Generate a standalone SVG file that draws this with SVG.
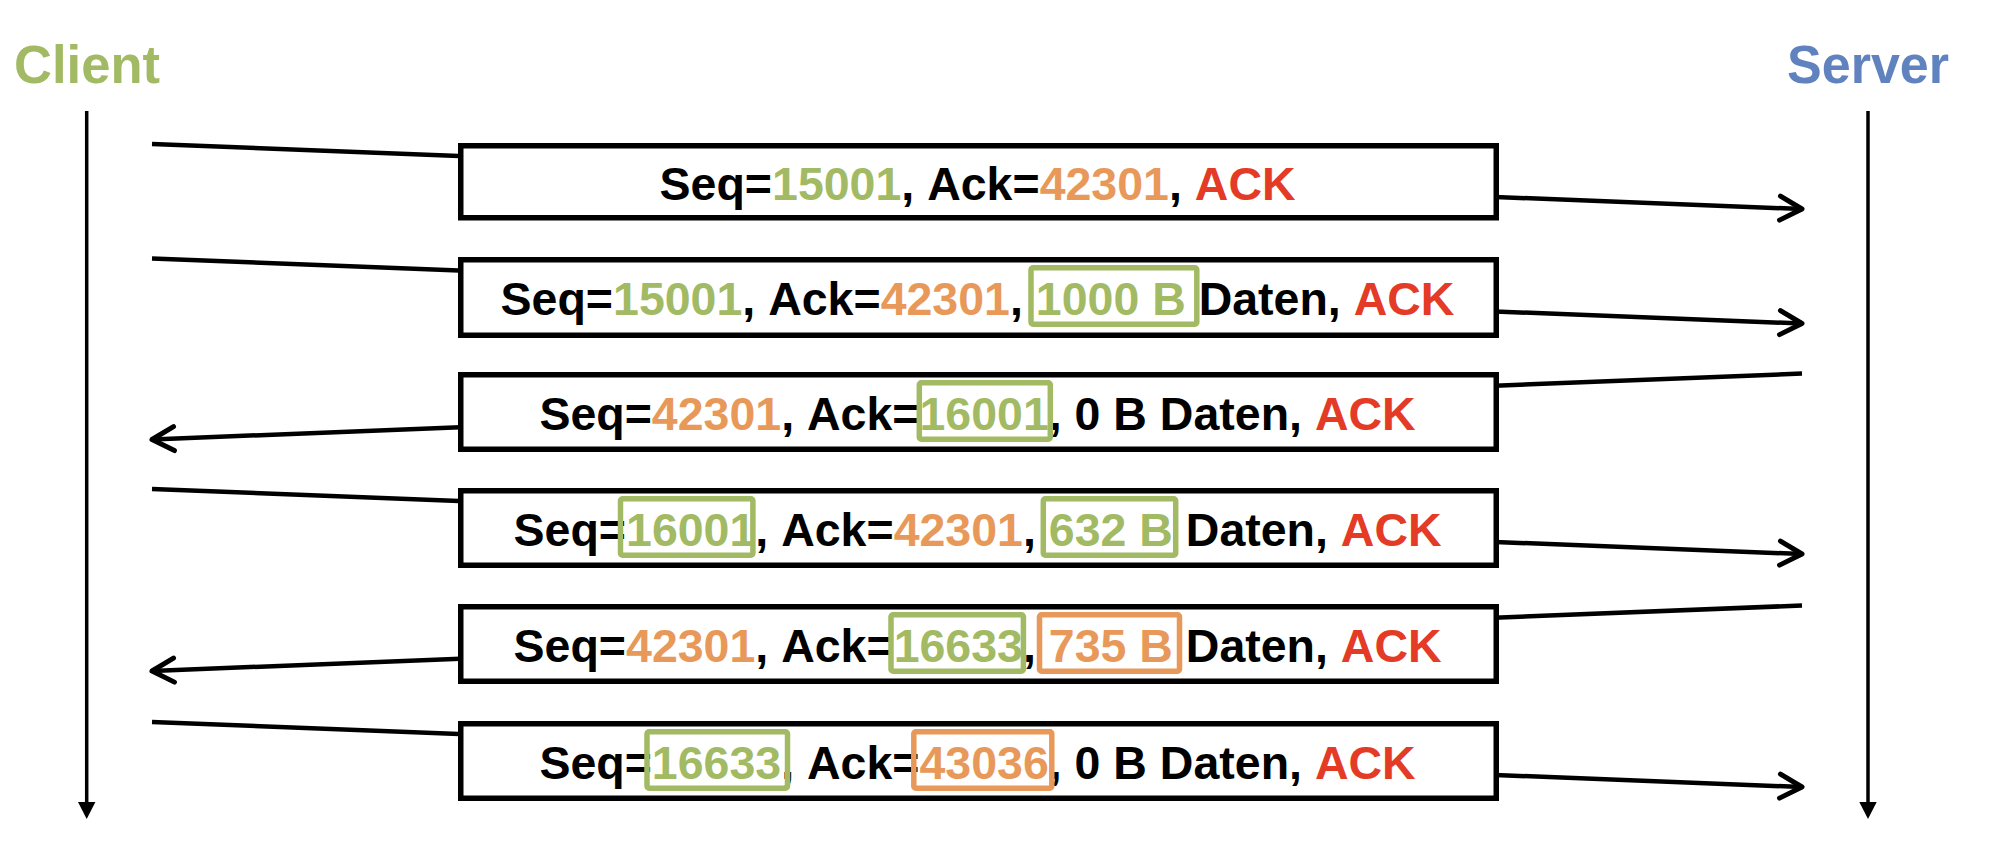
<svg xmlns="http://www.w3.org/2000/svg" width="1989" height="849" viewBox="0 0 1989 849">
  <style>
    text { font-family: "Liberation Sans", Arial, sans-serif; font-weight: bold; white-space: pre; font-kerning: none; }
    .msg { font-size: 46.5px; fill: #000; }
    .g { fill: #A2BA63; }
    .o { fill: #E8995A; }
    .r { fill: #E33B26; }
    .box { fill: #fff; stroke: #000; stroke-width: 5.5; }
    .hl-g { fill: none; stroke: #A2BA63; stroke-width: 5.5; }
    .hl-o { fill: none; stroke: #E8995A; stroke-width: 5.5; }
    .wire { fill: none; stroke: #000; stroke-width: 4.5; marker-end: url(#chevron); }
    .life { stroke: #000; stroke-width: 3.5; }
  </style>
  <defs>
    <marker id="chevron" markerUnits="userSpaceOnUse" orient="auto" viewBox="-26 -16 30 32" refX="0" refY="0" markerWidth="30" markerHeight="32" overflow="visible">
      <path d="M-22,-12 L0,0 L-22,12" fill="none" stroke="#000" stroke-width="5" stroke-linecap="round" stroke-linejoin="round"/>
    </marker>
  </defs>
  <rect width="1989" height="849" fill="#fff"/>

  <!-- participants with their time axes -->
  <g id="client">
    <text x="14" y="83" font-size="54" fill="#A2BA63" textLength="146" lengthAdjust="spacingAndGlyphs">Client</text>
    <line class="life" x1="86.7" y1="111" x2="86.7" y2="804"/>
    <polygon points="78,802 95.4,802 86.7,819"/>
  </g>
  <g id="server">
    <text x="1787" y="83" font-size="54" fill="#6083BF" textLength="162" lengthAdjust="spacingAndGlyphs">Server</text>
    <line class="life" x1="1868" y1="111" x2="1868" y2="804"/>
    <polygon points="1859.3,802 1876.7,802 1868,819"/>
  </g>

  <!-- segment exchange; each line runs behind its label box -->
  <g id="connectors">
    <line class="wire" x1="152" y1="144" x2="1802" y2="209"/>
    <line class="wire" x1="152" y1="258.5" x2="1802" y2="323.5"/>
    <line class="wire" x1="1802" y1="373.5" x2="152" y2="439.5"/>
    <line class="wire" x1="152" y1="489" x2="1802" y2="554"/>
    <line class="wire" x1="1802" y1="605.5" x2="152" y2="671"/>
    <line class="wire" x1="152" y1="722" x2="1802" y2="787"/>
  </g>

  <g id="seg1">
    <rect class="box" x="460.75" y="145.75" width="1035.5" height="72"/>
    <text class="msg" x="659.6" y="200">Seq=<tspan class="g">15001</tspan>, Ack=<tspan class="o">42301</tspan>, <tspan class="r">ACK</tspan></text>
  </g>

  <g id="seg2">
    <rect class="box" x="460.75" y="259.75" width="1035.5" height="75.5"/>
    <text class="msg" x="500.6" y="315">Seq=<tspan class="g">15001</tspan>, Ack=<tspan class="o">42301</tspan>, <tspan class="g">1000 B</tspan> Daten, <tspan class="r">ACK</tspan></text>
    <rect class="hl-g" x="1031" y="267.75" width="165.8" height="56.5" rx="2"/>
  </g>

  <g id="seg3">
    <rect class="box" x="460.75" y="374.75" width="1035.5" height="74.5"/>
    <text class="msg" x="539.4" y="429.5">Seq=<tspan class="o">42301</tspan>, Ack=<tspan class="g">16001</tspan>, 0 B Daten, <tspan class="r">ACK</tspan></text>
    <rect class="hl-g" x="919.3" y="382.75" width="131" height="56.5" rx="2"/>
  </g>

  <g id="seg4">
    <rect class="box" x="460.75" y="490.75" width="1035.5" height="74.5"/>
    <text class="msg" x="513.6" y="545.5">Seq=<tspan class="g">16001</tspan>, Ack=<tspan class="o">42301</tspan>, <tspan class="g">632 B</tspan> Daten, <tspan class="r">ACK</tspan></text>
    <rect class="hl-g" x="620.5" y="498.75" width="132.4" height="56.5" rx="2"/>
    <rect class="hl-g" x="1043.3" y="498.75" width="132.4" height="56.5" rx="2"/>
  </g>

  <g id="seg5">
    <rect class="box" x="460.75" y="606.75" width="1035.5" height="74.5"/>
    <text class="msg" x="513.6" y="661.5">Seq=<tspan class="o">42301</tspan>, Ack=<tspan class="g">16633</tspan>, <tspan class="o">735 B</tspan> Daten, <tspan class="r">ACK</tspan></text>
    <rect class="hl-g" x="891" y="614.75" width="132.4" height="56.5" rx="2"/>
    <rect class="hl-o" x="1039.5" y="614.75" width="140" height="56.5" rx="2"/>
  </g>

  <g id="seg6">
    <rect class="box" x="460.75" y="723.75" width="1035.5" height="74.5"/>
    <text class="msg" x="539.4" y="778.5">Seq=<tspan class="g">16633</tspan>, Ack=<tspan class="o">43036</tspan>, 0 B Daten, <tspan class="r">ACK</tspan></text>
    <rect class="hl-g" x="647" y="731.75" width="140.5" height="56.5" rx="2"/>
    <rect class="hl-o" x="913.8" y="731.75" width="138" height="56.5" rx="2"/>
  </g>
</svg>
